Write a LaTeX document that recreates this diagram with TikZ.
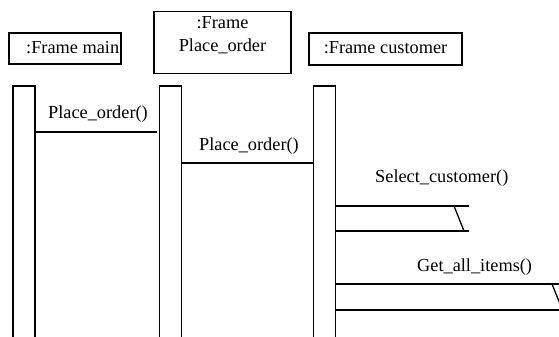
\documentclass[tikz,border=0pt]{standalone}
\usepackage{fontspec}
\setmainfont{LiberationSerif}[Extension=.ttf,UprightFont=*-Regular]
\begin{document}
\begin{tikzpicture}[x=1pt,y=-1pt,
  every node/.style={inner sep=0pt},
  obj/.style={draw,line width=1.3pt,inner sep=0pt},
  life/.style={draw,line width=1.3pt,inner sep=0pt,minimum width=22pt,minimum height=262pt},
  lbl/.style={font=\rmfamily\fontsize{18.3}{21}\selectfont,anchor=base west},
  msg/.style={line width=1.3pt}]
  \useasboundingbox (0,0) rectangle (559,337);
  \clip (0,0) rectangle (559,337);

  % object boxes
  \node[obj,minimum width=112pt,minimum height=31pt] (bmain) at (65,48.5) {};
  \node[obj,minimum width=137pt,minimum height=62pt] (bpo) at (222.5,42.5) {};
  \node[obj,minimum width=153pt,minimum height=32pt] (bcu) at (385.5,49) {};
  \node[lbl] (tmain) at (26,54) {:Frame main};
  \node[lbl,anchor=base] (tpo1) at (222.5,29) {:Frame};
  \node[lbl,anchor=base] (tpo2) at (222.5,52) {Place\_order};
  \node[lbl,anchor=base] (tcu) at (385.5,54) {:Frame customer};

  % lifelines (activation bars)
  \node[life] (lmain) at (24,217) {};
  \node[life] (lpo) at (170.5,217) {};
  \node[life] (lcu) at (324.5,217) {};

  % message labels
  \node[lbl] (m1) at (48,118) {Place\_order()};
  \node[lbl] (m2) at (199,150) {Place\_order()};
  \node[lbl] (m3) at (375,182) {Select\_customer()};
  \node[lbl] (m4) at (417,271) {Get\_all\_items()};

  % free ends of the self calls
  \coordinate (s1a) at (469,206);
  \coordinate (s1b) at (469,231);
  \coordinate (k1a) at (454,206);
  \coordinate (k1b) at (464,231);
  \coordinate (s2a) at (562,284);
  \coordinate (s2b) at (562,310);
  \coordinate (k2a) at (552,284);
  \coordinate (k2b) at (562.4,310);

  % messages
  \draw[msg] (lmain.east |- 0,132) -- ([xshift=-2pt]lpo.west |- 0,132);
  \draw[msg] (lpo.east |- 0,163) -- (lcu.west |- 0,163);
  \draw[msg] (lcu.east |- s1a) -- (s1a);
  \draw[msg] (lcu.east |- s1b) -- (s1b);
  \draw[msg] (k1a) -- (k1b);
  \draw[msg] (lcu.east |- s2a) -- (s2a);
  \draw[msg] (lcu.east |- s2b) -- (s2b);
  \draw[msg] (k2a) -- (k2b);
\end{tikzpicture}
\end{document}
